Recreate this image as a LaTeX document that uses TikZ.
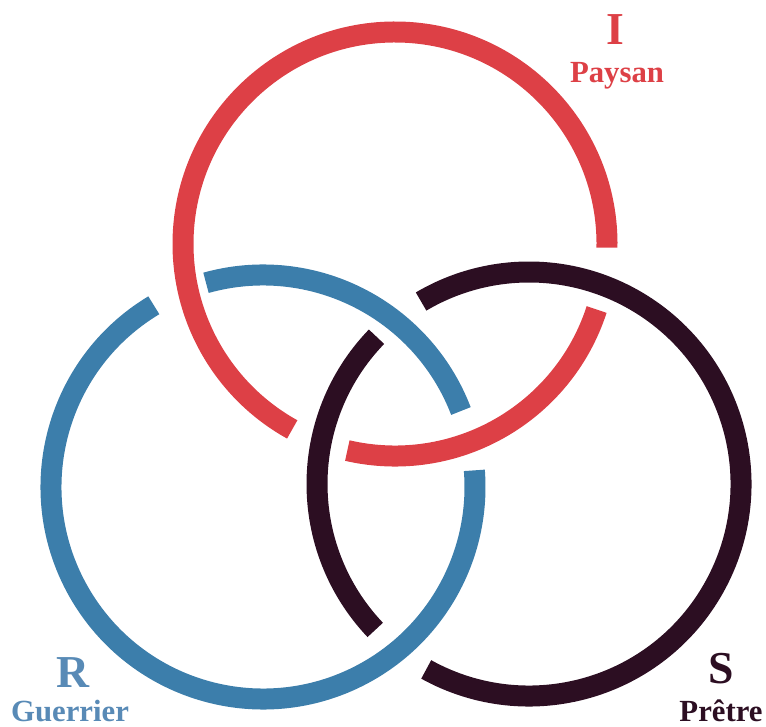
\documentclass[tikz,border=0pt]{standalone}
\usepackage{fontspec}
\setmainfont{Liberation Serif}
\definecolor{paysan}{RGB}{221,64,70}
\definecolor{guerrier}{RGB}{60,126,171}
\definecolor{guerriertext}{RGB}{88,138,182}
\definecolor{pretre}{RGB}{44,14,34}

\begin{document}
\begin{tikzpicture}[
  x=0.02cm, y=0.02cm,
  ring/.style={line width=4.2mm, line cap=butt},
  letter/.style={font=\fontsize{26}{26}\selectfont\bfseries, anchor=base},
  caste/.style={font=\fontsize{17.5}{17.5}\selectfont\bfseries, anchor=base}
]
\useasboundingbox (0,0) rectangle (766,726);

% ring centres
\coordinate (cI) at (395,482);
\coordinate (cR) at (263,239);
\coordinate (cS) at (529,242);

% red ring (I)
\draw[ring, paysan] ([shift={(-103:212)}]cI) arc[start angle=-103, end angle=-18, radius=212];
\draw[ring, paysan] ([shift={(-1:212)}]cI) arc[start angle=-1, end angle=241, radius=212];

% blue ring (R)
\draw[ring, guerrier] ([shift={(21:212)}]cR) arc[start angle=21, end angle=105.6, radius=212];
\draw[ring, guerrier] ([shift={(121:212)}]cR) arc[start angle=121, end angle=364.5, radius=212];

% dark ring (S)
\draw[ring, pretre] ([shift={(-119:212)}]cS) arc[start angle=-119, end angle=120.6, radius=212];
\draw[ring, pretre] ([shift={(136:212)}]cS) arc[start angle=136, end angle=223.5, radius=212];

% labels
\node[letter, paysan] (I) at (615,681) {I};
\node[caste, paysan] (paysan) at (617,643) {Paysan};
\node[letter, guerriertext] (R) at (73,39) {R};
\node[caste, guerriertext] (guerrier) at (70,5) {Guerrier};
\node[letter, pretre] (S) at (721,43) {S};
\node[caste, pretre] (pretre) at (721,5) {Prêtre};
\end{tikzpicture}
\end{document}
